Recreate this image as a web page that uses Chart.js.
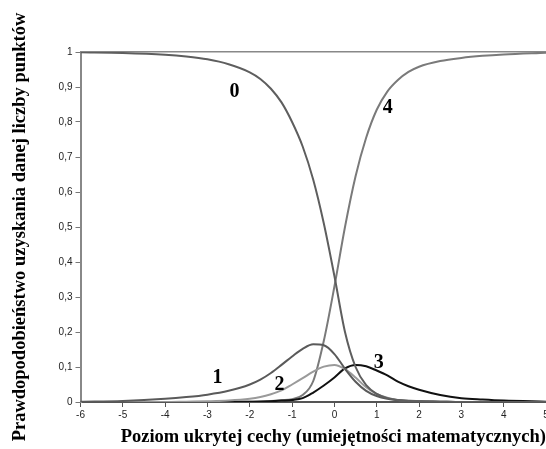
<!DOCTYPE html>
<html lang="pl">
<head>
<meta charset="utf-8">
<script src="https://cdn.jsdelivr.net/npm/chart.js@4/dist/chart.umd.min.js"></script>
<style>
  html, body { margin: 0; padding: 0; background: #fff; overflow: hidden; }
  #wrap { width: 560px; height: 449px; }
</style>
</head>
<body>
<div id="wrap"><canvas id="irtChart" width="560" height="449"></canvas></div>
<script>
// poziom cechy (theta)
const theta = [-6, -5, -4, -3.5, -3, -2.5, -2, -1.75, -1.5, -1.25, -1, -0.75, -0.5, -0.25,
  0, 0.25, 0.5, 0.75, 1, 1.25, 1.5, 1.75, 2, 2.5, 3, 3.5, 4, 5];

// prawdopodobienstwa dla kategorii 0..4
const p0 = [0.999, 0.997, 0.992, 0.987, 0.979, 0.965, 0.942, 0.923, 0.895, 0.856, 0.8, 0.73, 0.635, 0.51,
  0.36, 0.2, 0.1, 0.048, 0.023, 0.011, 0.006, 0.003, 0.002, 0.001, 0, 0, 0, 0];
const p1 = [0.001, 0.003, 0.009, 0.014, 0.021, 0.032, 0.05, 0.064, 0.083, 0.106, 0.13, 0.152, 0.165, 0.162,
  0.137, 0.095, 0.058, 0.032, 0.017, 0.009, 0.005, 0.003, 0.002, 0.001, 0, 0, 0, 0];
const p2 = [0, 0, 0, 0.001, 0.002, 0.004, 0.009, 0.014, 0.022, 0.033, 0.05, 0.068, 0.087, 0.101,
  0.106, 0.094, 0.07, 0.042, 0.023, 0.012, 0.006, 0.004, 0.002, 0.001, 0, 0, 0, 0];
const p3 = [0, 0, 0, 0, 0, 0, 0.001, 0.001, 0.002, 0.004, 0.006, 0.011, 0.027, 0.047,
  0.07, 0.096, 0.106, 0.102, 0.09, 0.076, 0.058, 0.045, 0.035, 0.02, 0.011, 0.007, 0.004, 0.001];
const p4 = [0, 0, 0, 0, 0, 0.001, 0.001, 0.002, 0.003, 0.005, 0.008, 0.02, 0.06, 0.175,
  0.33, 0.5, 0.645, 0.755, 0.835, 0.887, 0.92, 0.943, 0.958, 0.974, 0.983, 0.989, 0.993, 0.998];

const yTicks = [0, 0.1, 0.2, 0.3, 0.4, 0.5, 0.6, 0.7, 0.8, 0.9, 1];
const xTicks = [-6, -5, -4, -3, -2, -1, 0, 1, 2, 3, 4, 5];

// numery kategorii przy krzywych
const curveLabels = [
  { text: '0', x: -2.36, y: 0.886 },
  { text: '1', x: -2.76, y: 0.069 },
  { text: '2', x: -1.3, y: 0.049 },
  { text: '3', x: 1.05, y: 0.111 },
  { text: '4', x: 1.26, y: 0.84 }
];

const series = [
  { values: p0, color: '#5e5e5e' },
  { values: p1, color: '#5a5a5a' },
  { values: p2, color: '#9a9a9a' },
  { values: p3, color: '#111111' },
  { values: p4, color: '#7a7a7a' }
];

const toPoints = vals => theta.map((t, i) => ({ x: t, y: vals[i] }));

const labelPlugin = {
  id: 'curveLabels',
  afterDatasetsDraw(chart) {
    const { ctx, scales } = chart;
    ctx.save();
    ctx.font = 'bold 20px "Liberation Serif", "Times New Roman", serif';
    ctx.fillStyle = '#000';
    ctx.textAlign = 'center';
    ctx.textBaseline = 'middle';
    curveLabels.forEach(l => {
      ctx.fillText(l.text, scales.x.getPixelForValue(l.x), scales.y.getPixelForValue(l.y));
    });
    ctx.restore();
  }
};

const tickFont = { family: '"Liberation Sans", Arial, sans-serif', size: 10 };
const titleFont = { family: '"Liberation Serif", "Times New Roman", serif', size: 18.5, weight: 'bold' };

new Chart(document.getElementById('irtChart'), {
  type: 'line',
  data: {
    datasets: series.map(s => ({
      data: toPoints(s.values),
      borderColor: s.color,
      borderWidth: 2,
      pointRadius: 0,
      fill: false,
      cubicInterpolationMode: 'monotone'
    }))
  },
  options: {
    responsive: false,
    animation: false,
    layout: { padding: { top: 52, right: 14, left: 0, bottom: 0 } },
    plugins: { legend: { display: false }, tooltip: { enabled: false } },
    scales: {
      x: {
        type: 'linear',
        min: -6,
        max: 5,
        afterBuildTicks: axis => { axis.ticks = xTicks.map(v => ({ value: v })); },
        afterFit: axis => { axis.height = 47; },
        ticks: { font: tickFont, color: '#222', padding: 2, maxRotation: 0, callback: v => String(v) },
        grid: { drawOnChartArea: false, drawTicks: true, tickLength: 5, color: '#555', lineWidth: 1 },
        border: { color: '#555', width: 2 },
        title: {
          display: true,
          align: 'end',
          text: 'Poziom ukrytej cechy (umiejętności matematycznych)',
          font: titleFont,
          color: '#000',
          padding: { top: 0, bottom: 1 }
        }
      },
      x2: {
        type: 'linear',
        position: 'top',
        min: -6,
        max: 5,
        ticks: { display: false },
        grid: { display: false, drawTicks: false },
        border: { color: '#888', width: 1.5 }
      },
      y: {
        min: 0,
        max: 1,
        afterBuildTicks: axis => { axis.ticks = yTicks.map(v => ({ value: v })); },
        afterFit: axis => { axis.width = 80.5; },
        ticks: {
          font: tickFont,
          color: '#222',
          padding: 3,
          callback: v => String(v).replace('.', ',')
        },
        grid: { drawOnChartArea: false, drawTicks: true, tickLength: 5, color: '#777', lineWidth: 1 },
        border: { color: '#888', width: 2 },
        title: {
          display: true,
          text: 'Prawdopodobieństwo uzyskania danej liczby punktów',
          font: titleFont,
          color: '#000',
          padding: { top: 9, bottom: 0 }
        }
      }
    }
  },
  plugins: [labelPlugin]
});
</script>
</body>
</html>
